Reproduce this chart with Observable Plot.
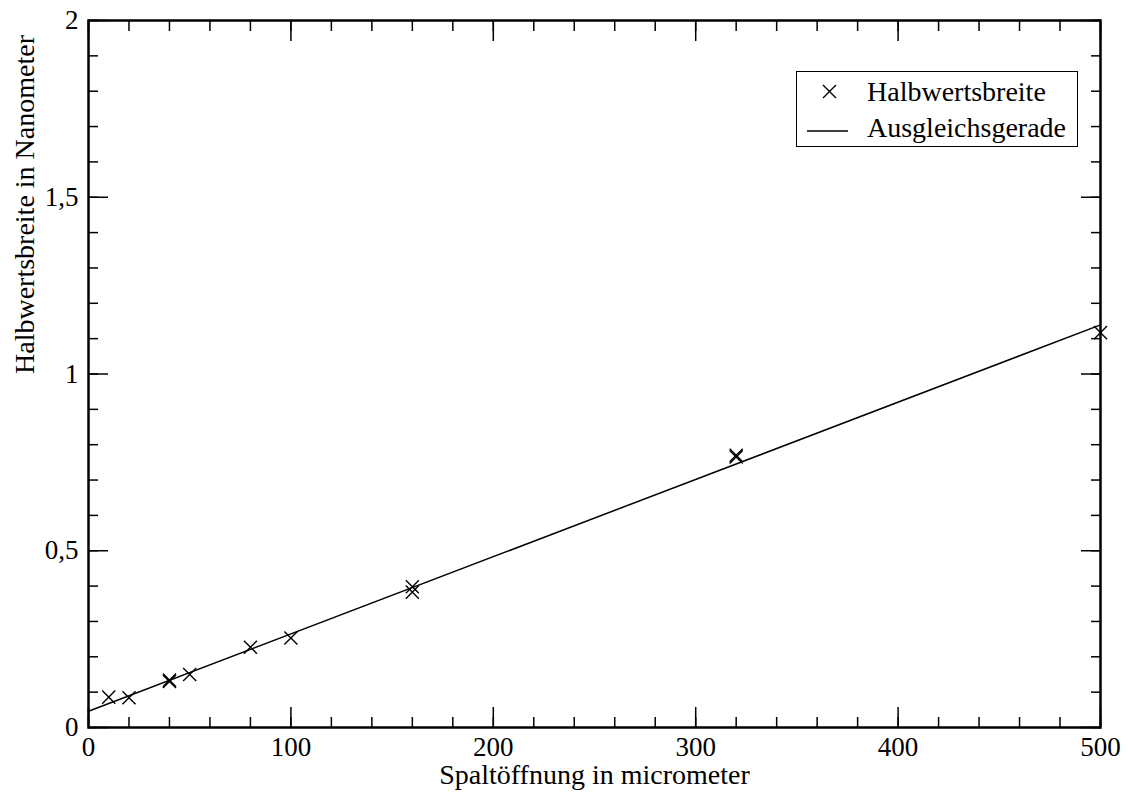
<!DOCTYPE html>
<html>
<head>
<meta charset="utf-8">
<script src="https://cdn.jsdelivr.net/npm/d3@7"></script>
<script src="https://cdn.jsdelivr.net/npm/@observablehq/plot@0.6"></script>
<style>
  html, body { margin: 0; padding: 0; background: #fff; }
  #wrap { position: relative; width: 1128px; height: 798px; font-family: "Liberation Serif", "Times New Roman", serif; }
  #wrap svg text { font-family: "Liberation Serif", "Times New Roman", serif; }
  #legend { position: absolute; left: 796px; top: 71px; width: 282px; height: 76px; border: 1.5px solid #000; box-sizing: border-box; background: #fff; font-size: 28px; color: #000; }
  #legend .row { position: absolute; left: 0; height: 36px; display: flex; align-items: center; }
  #legend .txt { position: absolute; left: 70px; white-space: nowrap; }
</style>
</head>
<body>
<div id="wrap"></div>
<script>
// Measured data (Spaltöffnung in µm, Halbwertsbreite in nm)
const slitWidth = [10, 20, 40, 40, 50, 80, 100, 160, 160, 320, 320, 500];
const halfWidth = [0.086, 0.084, 0.130, 0.134, 0.150, 0.227, 0.253, 0.398, 0.383, 0.765, 0.770, 1.117];
// Fit line endpoints
const fitX = [0, 500];
const fitY = [0.046, 1.139];
// Axis ticks
const xMajor = [0, 100, 200, 300, 400, 500];
const xMinor = d3.range(0, 501, 20);
const yMajor = [0, 0.5, 1, 1.5, 2];
const yMajorLabels = ["0", "0,5", "1", "1,5", "2"];
const yMinor = d3.range(0, 2.0001, 0.1);

const points = slitWidth.map((x, i) => ({x, y: halfWidth[i]}));
const fit = fitX.map((x, i) => ({x, y: fitY[i]}));

const font = "Liberation Serif";
const blank = () => "";

const chart = Plot.plot({
  width: 1128,
  height: 798,
  marginLeft: 88,
  marginRight: 28,
  marginTop: 20,
  marginBottom: 71,
  style: {fontFamily: font, fontSize: "27px", color: "#000", background: "#fff"},
  x: {domain: [0, 500], axis: null},
  y: {domain: [0, 2], axis: null},
  marks: [
    // tick labels
    Plot.axisX(xMajor, {anchor: "bottom", tickSize: 0, tickPadding: 9, tickFormat: d => String(d), fontSize: 27, fontFamily: font, label: null}),
    Plot.axisY(yMajor, {anchor: "left", tickSize: 0, tickPadding: 10, tickFormat: d => yMajorLabels[yMajor.indexOf(d)], fontSize: 27, fontFamily: font, label: null}),
    // inward ticks: major
    Plot.axisX(xMajor, {anchor: "bottom", tickSize: -20, tickFormat: blank, label: null, strokeWidth: 1.5}),
    Plot.axisX(xMajor, {anchor: "top", tickSize: -20, tickFormat: blank, label: null, strokeWidth: 1.5}),
    Plot.axisY(yMajor, {anchor: "left", tickSize: -20, tickFormat: blank, label: null, strokeWidth: 1.5}),
    Plot.axisY(yMajor, {anchor: "right", tickSize: -20, tickFormat: blank, label: null, strokeWidth: 1.5}),
    // inward ticks: minor
    Plot.axisX(xMinor, {anchor: "bottom", tickSize: -10, tickFormat: blank, label: null, strokeWidth: 1.5}),
    Plot.axisX(xMinor, {anchor: "top", tickSize: -10, tickFormat: blank, label: null, strokeWidth: 1.5}),
    Plot.axisY(yMinor, {anchor: "left", tickSize: -10, tickFormat: blank, label: null, strokeWidth: 1.5}),
    Plot.axisY(yMinor, {anchor: "right", tickSize: -10, tickFormat: blank, label: null, strokeWidth: 1.5}),
    // fit line
    Plot.line(fit, {x: "x", y: "y", stroke: "#000", strokeWidth: 1.5}),
    // data points
    Plot.dot(points, {x: "x", y: "y", symbol: "times", r: 6, stroke: "#000", strokeWidth: 1.4}),
    // frame
    Plot.frame({stroke: "#000", strokeWidth: 2.5}),
    // axis titles
    Plot.text(["Spaltöffnung in micrometer"], {frameAnchor: "bottom", dy: 56, fontSize: 28, fontFamily: font, fill: "#000"}),
    Plot.text(["Halbwertsbreite in Nanometer"], {frameAnchor: "left", dx: -63, dy: 0, rotate: -90, fontSize: 28, fontFamily: font, fill: "#000"})
  ]
});

const wrap = document.getElementById("wrap");
wrap.appendChild(chart);

// Legend
const legend = document.createElement("div");
legend.id = "legend";
legend.innerHTML = `
  <div class="row" style="top:2px;">
    <svg width="70" height="36" style="position:absolute;left:0;top:0"><path d="M26,11L39,24M39,11L26,24" stroke="#000" stroke-width="1.4" fill="none"/></svg>
    <span class="txt">Halbwertsbreite</span>
  </div>
  <div class="row" style="top:38px;">
    <svg width="70" height="36" style="position:absolute;left:0;top:0"><path d="M10,21H51" stroke="#000" stroke-width="1.5" fill="none"/></svg>
    <span class="txt">Ausgleichsgerade</span>
  </div>`;
wrap.appendChild(legend);
</script>
</body>
</html>
